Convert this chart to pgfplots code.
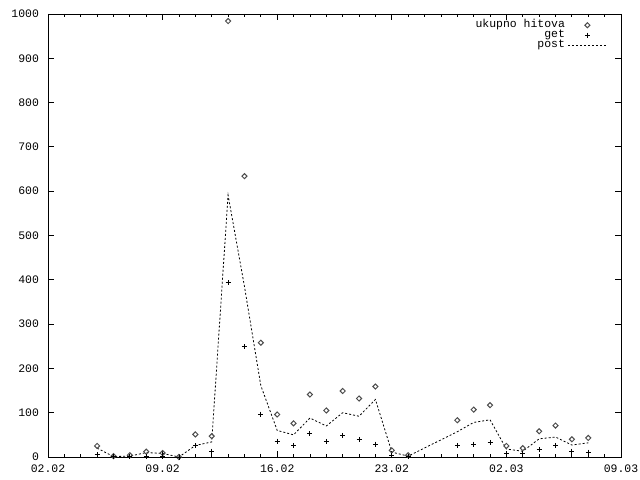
\documentclass[border=0pt]{standalone}
\usepackage{fontspec}
\setmainfont{Liberation Mono}
\setmonofont{Liberation Mono}
\usepackage{pgfplots}
\usepackage{pgfplotstable}
\pgfplotsset{compat=1.18}

% day 0 = 02.02
\pgfplotstableread{
day total get post
3   25   5   20
4   2    1   1
5   4    2   2
6   12   2   10
7   9    1   8
8   0    0   0
9   51   25  26
10  47   13  34
11  984  393 591
12  634  249 385
13  258  97  161
14  96   36  60
15  76   26  50
16  141  53  88
17  105  35  70
18  149  49  100
19  132  40  92
20  159  29  130
21  15   4   11
22  4    2   2
25  83   26  57
26  107  29  78
27  117  33  84
28  25   7   18
29  20   7   13
30  58   17  41
31  71   26  45
32  40   13  27
33  43   11  32
}\hits

\begin{document}
\fontsize{11.5}{12}\selectfont
\begin{tikzpicture}
\path[use as bounding box] (-48bp,-23bp) rectangle (592bp,457bp);
\begin{axis}[
  at={(0,0)}, anchor=south west,
  scale only axis, width=573bp, height=443bp,
  xmin=0, xmax=35, ymin=0, ymax=1000,
  xtick={0,7,...,35},
  xticklabels={02.02,09.02,16.02,23.02,02.03,09.03},
  minor x tick num=6,
  ytick={0,100,...,1000},
  major tick length=6bp, minor tick length=3bp,
  tick style={black, line width=0.8bp},
  axis line style={line width=0.8bp},
  /pgf/number format/assume math mode=true,
  /pgf/number format/set thousands separator={},
  yticklabel style={xshift=-5bp},
  xticklabel style={yshift=-4bp},
  legend plot pos=right,
  legend cell align=right,
  legend style={draw=none, fill=none, at={(1,1)}, anchor=north east,
    xshift=-14bp, yshift=-6bp, inner sep=0pt, column sep=0bp,
    nodes={inner sep=0pt, text height=7bp, text depth=3bp}},
  legend image code/.code={\path (0bp,0bp);
    \draw[mark repeat=2,mark phase=2,#1]
    plot coordinates {(3bp,0bp)(22bp,0bp)(41bp,0bp)};},
]
\addplot[only marks, mark=square, mark size=1.8bp,
  mark options={rotate=45}, draw=black!70, line width=1bp]
  table[x=day, y=total]{\hits};
\addlegendentry{ukupno hitova}
\addplot[only marks, mark=+, mark size=2.5bp, black, line width=0.9bp]
  table[x=day, y=get]{\hits};
\addlegendentry{get}
\addplot[black, line width=0.8bp, dash pattern=on 2bp off 2bp, mark=none]
  table[x=day, y=post]{\hits};
\addlegendentry{post}
\end{axis}
\end{tikzpicture}
\end{document}
